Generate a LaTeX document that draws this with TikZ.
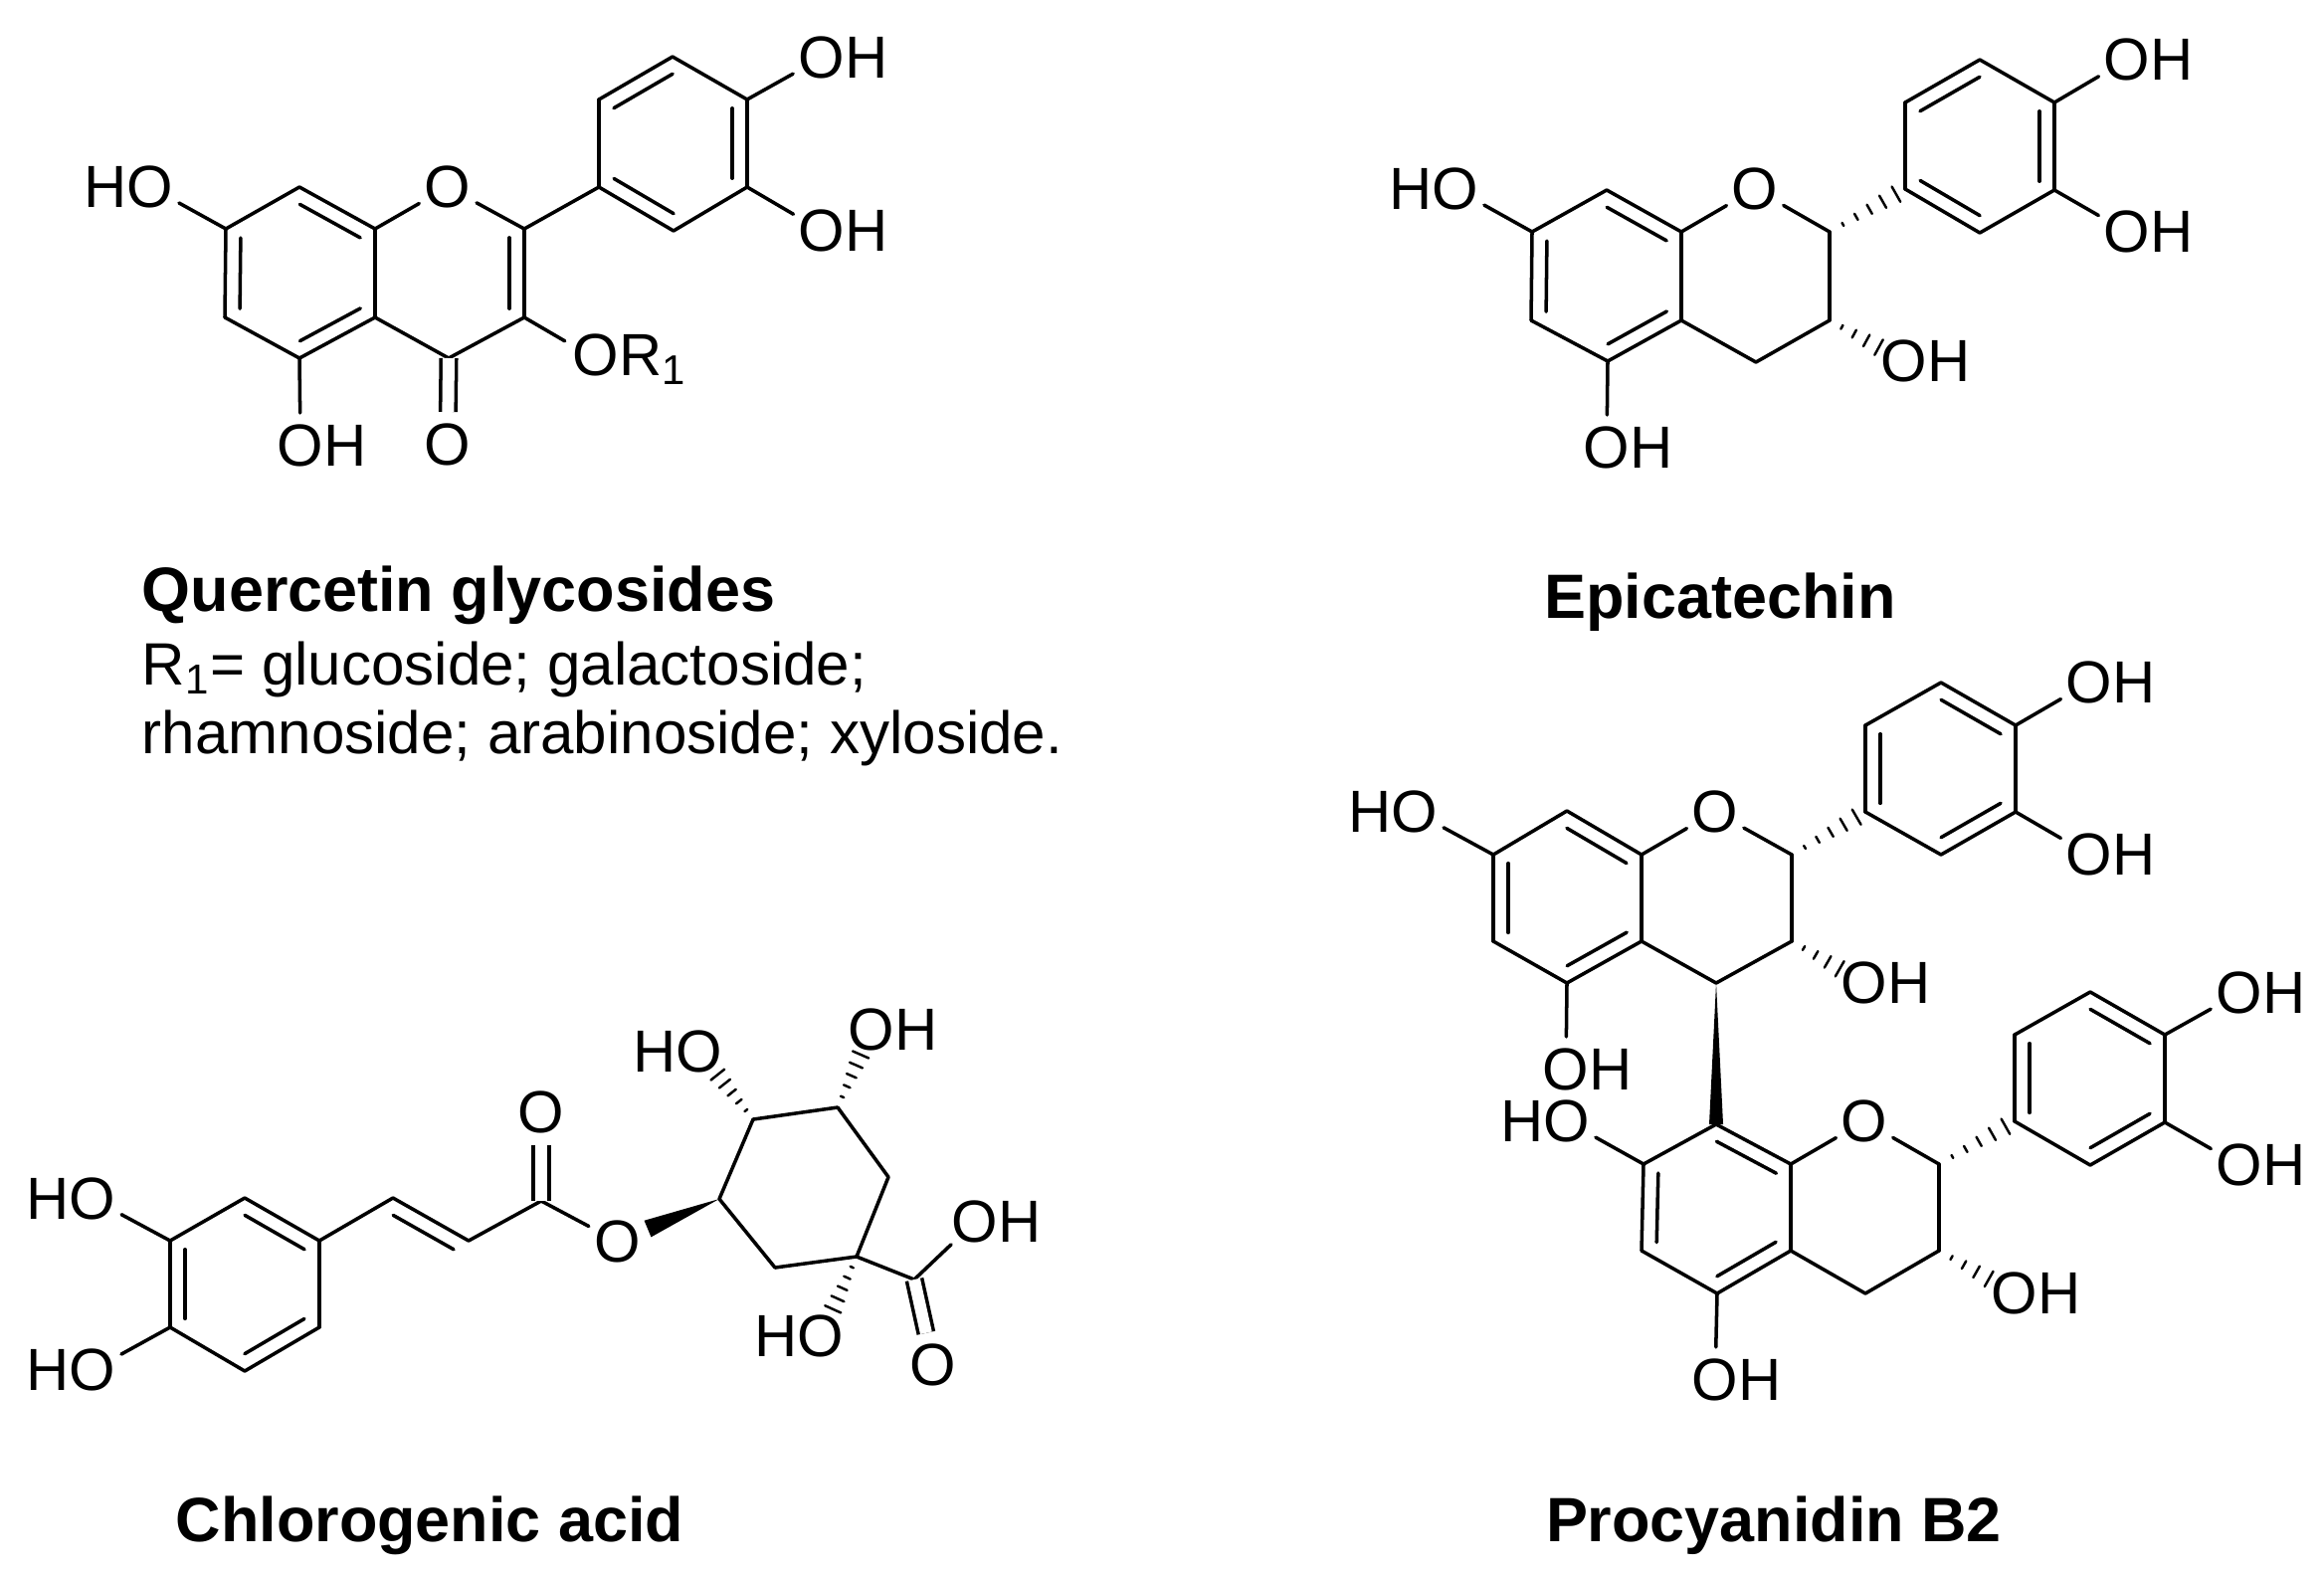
\documentclass[tikz,border=0pt]{standalone}
\usepackage{fontspec}
\setmainfont{Liberation Sans}
\usetikzlibrary{calc}

\newcommand{\dbond}[2]{\draw ($(#1)!.1!(#2)!.15cm!90:(#2)$) -- ($(#2)!.1!(#1)!.15cm!-90:(#1)$);}
\newcommand{\hbond}[4]{
    \foreach \i in {1,...,#3} {
        \pgfmathsetmacro{\f}{#4*\i/#3}
        \pgfmathsetmacro{\w}{2.5*\i/#3}
        \draw [line width=0.7pt] ($(#1)!\f!(#2)!\w pt!90:(#2)$) -- ($(#1)!\f!(#2)!\w pt!-90:(#2)$);
    }
}
\newcommand{\wbond}[3]{\fill (#1) -- ($(#2)!#3!90:(#1)$) -- ($(#2)!#3!-90:(#1)$) -- cycle;}

\tikzset{
    atom/.style={shape=circle,inner sep=0pt,minimum size=.62cm,font=\fontsize{17}{20}\selectfont},
    heading/.style={inner sep=0pt,font=\fontsize{17.9}{22}\selectfont\bfseries},
    caption/.style={inner sep=0pt,align=left,font=\fontsize{17.1}{19.6}\selectfont},
    dbl/.style={double,double distance=.12cm,line cap=butt}
}

\begin{document}
\begin{tikzpicture}[line width=1pt,line cap=round]
    \useasboundingbox (0,0) rectangle (23.36,-15.84);

    \coordinate (Q1) at (2.27,-2.30);
    \coordinate (Q2) at (3.01,-1.88);
    \coordinate (Q3) at (3.77,-2.30);
    \coordinate (Q4) at (3.77,-3.19);
    \coordinate (Q5) at (3.01,-3.60);
    \coordinate (Q6) at (2.26,-3.19);
    \node[atom] (Q7) at (4.50,-1.88) {O};
    \coordinate (Q8) at (5.27,-2.30);
    \coordinate (Q9) at (5.27,-3.19);
    \coordinate (Q10) at (4.51,-3.60);
    \coordinate (Q11) at (6.02,-1.88);
    \coordinate (Q12) at (6.77,-2.32);
    \coordinate (Q13) at (7.51,-1.88);
    \coordinate (Q14) at (7.51,-1.00);
    \coordinate (Q15) at (6.76,-0.57);
    \coordinate (Q16) at (6.02,-1.00);
    \node[atom] (Q17) at (8.26,-0.58) {O\rlap{H}};
    \node[atom] (Q18) at (8.26,-2.32) {O\rlap{H}};
    \node[atom] (Q19) at (1.51,-1.88) {\llap{H}O};
    \node[atom] (Q20) at (3.02,-4.48) {O\rlap{H}};
    \node[atom] (Q21) at (4.50,-4.47) {O};
    \node[atom] (Q22) at (5.99,-3.61) {O\rlap{R\textsubscript{1}}};

    \foreach \a/\b in {Q1/Q2,Q2/Q3,Q3/Q4,Q4/Q5,Q5/Q6,Q6/Q1,Q3/Q7,Q7/Q8,Q8/Q9,Q9/Q10,Q10/Q4,Q8/Q11,
        Q11/Q12,Q12/Q13,Q13/Q14,Q14/Q15,Q15/Q16,Q16/Q11,Q14/Q17,Q13/Q18,Q1/Q19,Q5/Q20,Q9/Q22}
        \path [-] (\a) edge (\b);
    \foreach \a/\b in {Q1/Q6,Q5/Q4,Q3/Q2,Q9/Q8,Q15/Q16,Q11/Q12,Q13/Q14}
        {\dbond{\a}{\b}}
    \path [-] (Q10) edge [dbl] (Q21);

    \coordinate (E1) at (15.40,-2.33);
    \coordinate (E2) at (16.15,-1.91);
    \coordinate (E3) at (16.90,-2.33);
    \coordinate (E4) at (16.90,-3.22);
    \coordinate (E5) at (16.16,-3.63);
    \coordinate (E6) at (15.39,-3.22);
    \node[atom] (E7) at (17.64,-1.90) {O};
    \coordinate (E8) at (18.39,-2.33);
    \coordinate (E9) at (18.39,-3.22);
    \coordinate (E10) at (17.65,-3.64);
    \coordinate (E11) at (19.15,-1.90);
    \coordinate (E12) at (19.90,-2.34);
    \coordinate (E13) at (20.65,-1.91);
    \coordinate (E14) at (20.65,-1.03);
    \coordinate (E15) at (19.90,-0.60);
    \coordinate (E16) at (19.15,-1.03);
    \node[atom] (E17) at (21.38,-0.60) {O\rlap{H}};
    \node[atom] (E18) at (21.38,-2.33) {O\rlap{H}};
    \node[atom] (E19) at (14.63,-1.90) {\llap{H}O};
    \node[atom] (E20) at (16.15,-4.50) {O\rlap{H}};
    \node[atom] (E21) at (19.14,-3.63) {O\rlap{H}};

    \foreach \a/\b in {E1/E2,E2/E3,E3/E4,E4/E5,E5/E6,E6/E1,E3/E7,E7/E8,E8/E9,E9/E10,E10/E4,
        E11/E12,E12/E13,E13/E14,E14/E15,E15/E16,E16/E11,E14/E17,E13/E18,E1/E19,E5/E20}
        \path [-] (\a) edge (\b);
    \foreach \a/\b in {E1/E6,E5/E4,E3/E2,E15/E16,E11/E12,E13/E14}
        {\dbond{\a}{\b}}
    \hbond{E8}{E11}{5}{.88}
    \hbond{E9}{E21}{4}{.66}

    \coordinate (C1) at (1.71,-12.47);
    \coordinate (C2) at (2.46,-12.04);
    \coordinate (C3) at (3.21,-12.47);
    \coordinate (C4) at (3.21,-13.34);
    \coordinate (C5) at (2.46,-13.78);
    \coordinate (C6) at (1.71,-13.34);
    \coordinate (C7) at (3.95,-12.04);
    \coordinate (C8) at (4.71,-12.47);
    \coordinate (C9) at (5.44,-12.07);
    \node[atom] (C10) at (5.44,-11.18) {O};
    \node[atom] (C11) at (6.21,-12.48) {O};
    \coordinate (C12) at (7.23,-12.05);
    \coordinate (C13) at (7.57,-11.25);
    \coordinate (C14) at (8.42,-11.13);
    \coordinate (C15) at (8.93,-11.83);
    \coordinate (C16) at (8.61,-12.63);
    \coordinate (C17) at (7.79,-12.74);
    \coordinate (C18) at (9.19,-12.86);
    \node[atom] (C19) at (9.80,-12.28) {O\rlap{H}};
    \node[atom] (C20) at (9.38,-13.72) {O};
    \node[atom] (C21) at (0.93,-12.05) {\llap{H}O};
    \node[atom] (C22) at (0.93,-13.77) {\llap{H}O};
    \node[atom] (C23) at (7.03,-10.57) {\llap{H}O};
    \node[atom] (C24) at (8.76,-10.35) {O\rlap{H}};
    \node[atom] (C25) at (8.25,-13.43) {\llap{H}O};
    \coordinate (C26) at (6.51,-12.35);

    \foreach \a/\b in {C1/C2,C2/C3,C3/C4,C4/C5,C5/C6,C6/C1,C3/C7,C7/C8,C8/C9,C9/C11,C12/C13,C13/C14,
        C14/C15,C15/C16,C16/C17,C17/C12,C16/C18,C18/C19,C1/C21,C6/C22}
        \path [-] (\a) edge (\b);
    \foreach \a/\b in {C1/C6,C5/C4,C3/C2,C8/C7}
        {\dbond{\a}{\b}}
    \path [-] (C9) edge [dbl] (C10);
    \path [-] (C18) edge [dbl] (C20);
    \wbond{C12}{C26}{.09cm}
    \hbond{C13}{C23}{5}{.66}
    \hbond{C14}{C24}{5}{.68}
    \hbond{C16}{C25}{5}{.66}

    \coordinate (U1) at (15.01,-8.59);
    \coordinate (U2) at (15.75,-8.15);
    \coordinate (U3) at (16.50,-8.59);
    \coordinate (U4) at (16.50,-9.46);
    \coordinate (U5) at (15.75,-9.88);
    \coordinate (U6) at (15.01,-9.46);
    \node[atom] (U7) at (17.24,-8.16) {O};
    \coordinate (U8) at (18.01,-8.59);
    \coordinate (U9) at (18.01,-9.46);
    \coordinate (U10) at (17.25,-9.88);
    \coordinate (U11) at (18.75,-8.16);
    \coordinate (U12) at (19.51,-8.59);
    \coordinate (U13) at (20.26,-8.16);
    \coordinate (U14) at (20.26,-7.29);
    \coordinate (U15) at (19.51,-6.86);
    \coordinate (U16) at (18.75,-7.29);
    \node[atom] (U17) at (21.00,-6.86) {O\rlap{H}};
    \node[atom] (U18) at (21.00,-8.59) {O\rlap{H}};
    \node[atom] (U19) at (14.22,-8.16) {\llap{H}O};
    \node[atom] (U20) at (15.74,-10.75) {O\rlap{H}};
    \node[atom] (U21) at (18.74,-9.88) {O\rlap{H}};

    \foreach \a/\b in {U1/U2,U2/U3,U3/U4,U4/U5,U5/U6,U6/U1,U3/U7,U7/U8,U8/U9,U9/U10,U10/U4,
        U11/U12,U12/U13,U13/U14,U14/U15,U15/U16,U16/U11,U14/U17,U13/U18,U1/U19,U5/U20}
        \path [-] (\a) edge (\b);
    \foreach \a/\b in {U1/U6,U5/U4,U3/U2,U16/U11,U12/U13,U14/U15}
        {\dbond{\a}{\b}}
    \hbond{U8}{U11}{5}{.88}
    \hbond{U9}{U21}{4}{.66}

    \coordinate (L1) at (16.52,-11.70);
    \coordinate (L2) at (17.25,-11.30);
    \coordinate (L3) at (18.00,-11.70);
    \coordinate (L4) at (18.00,-12.57);
    \coordinate (L5) at (17.26,-13.00);
    \coordinate (L6) at (16.50,-12.57);
    \node[atom] (L7) at (18.74,-11.27) {O};
    \coordinate (L8) at (19.49,-11.70);
    \coordinate (L9) at (19.49,-12.57);
    \coordinate (L10) at (18.75,-13.00);
    \coordinate (L11) at (20.25,-11.27);
    \coordinate (L12) at (21.01,-11.71);
    \coordinate (L13) at (21.76,-11.28);
    \coordinate (L14) at (21.76,-10.40);
    \coordinate (L15) at (21.01,-9.97);
    \coordinate (L16) at (20.25,-10.40);
    \node[atom] (L17) at (22.51,-9.98) {O\rlap{H}};
    \node[atom] (L18) at (22.51,-11.71) {O\rlap{H}};
    \node[atom] (L19) at (15.75,-11.27) {\llap{H}O};
    \node[atom] (L20) at (17.24,-13.87) {O\rlap{H}};
    \node[atom] (L21) at (20.25,-13.00) {O\rlap{H}};

    \foreach \a/\b in {L1/L2,L2/L3,L3/L4,L4/L5,L5/L6,L6/L1,L3/L7,L7/L8,L8/L9,L9/L10,L10/L4,
        L11/L12,L12/L13,L13/L14,L14/L15,L15/L16,L16/L11,L14/L17,L13/L18,L1/L19,L5/L20}
        \path [-] (\a) edge (\b);
    \foreach \a/\b in {L1/L6,L5/L4,L3/L2,L16/L11,L12/L13,L14/L15}
        {\dbond{\a}{\b}}
    \hbond{L8}{L11}{5}{.88}
    \hbond{L9}{L21}{4}{.66}
    \wbond{U10}{L2}{.07cm}

    \node[heading,anchor=west] (qname) at (1.41,-5.98) {Quercetin glycosides};
    \node[caption,anchor=north west] (qtext) at (1.41,-6.43) {R\textsubscript{1}= glucoside; galactoside;\\rhamnoside; arabinoside; xyloside.};
    \node[heading] (ename) at (17.29,-6.05) {Epicatechin};
    \node[heading] (cname) at (4.32,-15.33) {Chlorogenic acid};
    \node[heading] (pname) at (17.83,-15.33) {Procyanidin B2};
\end{tikzpicture}
\end{document}
